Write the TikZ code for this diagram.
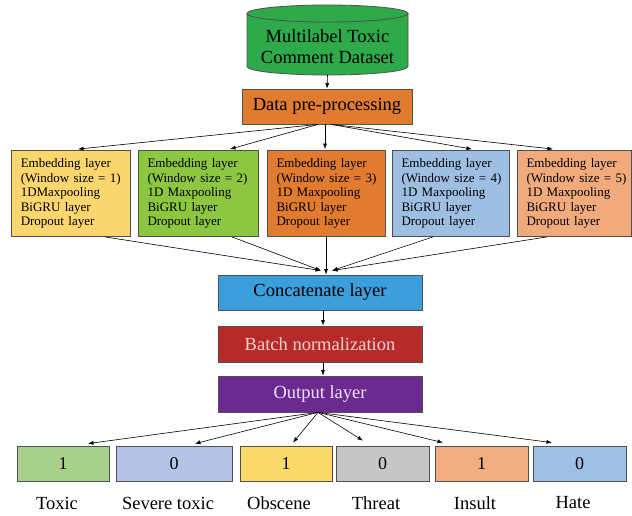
\documentclass[tikz,border=0pt]{standalone}
\usepackage{fontspec}
\setmainfont{Liberation Serif}
\usetikzlibrary{arrows.meta,calc}
\definecolor{edge}{HTML}{505050}
\definecolor{cylgreen}{HTML}{2EAA4A}
\definecolor{preor}{HTML}{E07B2F}
\definecolor{eyel}{HTML}{F9D66E}
\definecolor{egrn}{HTML}{8DC641}
\definecolor{eora}{HTML}{E07B2F}
\definecolor{eblu}{HTML}{9EBFE2}
\definecolor{esal}{HTML}{F1AA7C}
\definecolor{concol}{HTML}{3C9FDB}
\definecolor{batcol}{HTML}{B52B2A}
\definecolor{outcol}{HTML}{6B2A90}
\definecolor{battxt}{HTML}{F4D2CA}
\definecolor{outtxt}{HTML}{EEE2F6}
\definecolor{otox}{HTML}{A8D08D}
\definecolor{osev}{HTML}{B4C2E3}
\definecolor{oobs}{HTML}{FBD96B}
\definecolor{othr}{HTML}{C6C6C6}
\definecolor{oins}{HTML}{F2AE80}
\definecolor{ohat}{HTML}{9DC0E4}
\begin{document}
\begin{tikzpicture}[x=1pt,y=-1pt,
  box/.style={draw=edge, line width=0.8pt, inner sep=0pt, font=\fontsize{18.5}{21}\selectfont},
  embbox/.style={draw=edge, line width=0.8pt, minimum height=86pt, text width=#1, align=left,
    inner xsep=9.5pt, inner ysep=0pt, font=\fontsize{13}{14.5}\selectfont},
  resbox/.style={draw=edge, line width=0.8pt, inner sep=0pt, minimum height=35pt, font=\fontsize{18}{20}\selectfont},
  lbl/.style={inner sep=0pt, font=\fontsize{18.5}{21}\selectfont},
  arr/.style={-{Latex[length=5.5pt,width=4pt]}, line width=0.6pt, black}]
\useasboundingbox (0,0) rectangle (632,516);
\fill[white] (0,0) rectangle (632,516);

% cylinder
\fill[cylgreen] (247,13.5) -- (247,66.5) arc[start angle=180,end angle=0,x radius=80.5,y radius=8.5] -- (408,13.5) -- cycle;
\draw[edge, line width=0.8pt] (247,13.5) -- (247,66.5) arc[start angle=180,end angle=0,x radius=80.5,y radius=8.5] -- (408,13.5);
\draw[edge, line width=0.8pt, fill=cylgreen] (327.5,13.5) ellipse[x radius=80.5, y radius=8.5];
\node[lbl, align=center, font=\fontsize{18.5}{21}\selectfont] (ds) at (327.5,47) {Multilabel Toxic\\Comment Dataset};
\coordinate (cylbot) at (327.5,75);

\node[box, fill=preor, minimum width=170pt, minimum height=35pt] (pre) at (327,106.5) {Data pre-processing};

\node[embbox=99.5pt, fill=eyel, minimum width=119pt] (e1) at (70.5,193.5) {Embedding layer\\\mbox{(Window size = 1)}\\1DMaxpooling\\BiGRU layer\\Dropout layer};
\node[embbox=101pt, fill=egrn, minimum width=120pt] (e2) at (198,193.5) {Embedding layer\\\mbox{(Window size = 2)}\\1D Maxpooling\\BiGRU layer\\Dropout layer};
\node[embbox=99pt, fill=eora, minimum width=118pt] (e3) at (326,193.5) {Embedding layer\\\mbox{(Window size = 3)}\\1D Maxpooling\\BiGRU layer\\Dropout layer};
\node[embbox=98pt, fill=eblu, minimum width=117pt] (e4) at (450.5,193.5) {Embedding layer\\\mbox{(Window size = 4)}\\1D Maxpooling\\BiGRU layer\\Dropout layer};
\node[embbox=95pt, fill=esal, minimum width=114pt] (e5) at (574,193.5) {Embedding layer\\\mbox{(Window size = 5)}\\1D Maxpooling\\BiGRU layer\\Dropout layer};

\node[box, fill=concol, minimum width=204pt, minimum height=35pt] (con) at (320,292.5) {Concatenate layer};
\node[box, fill=batcol, text=battxt, minimum width=204pt, minimum height=36pt] (bat) at (320,344) {Batch normalization};
\node[box, fill=outcol, text=outtxt, minimum width=204pt, minimum height=36pt] (out) at (320,394) {Output layer};

\node[resbox, fill=otox, minimum width=92pt] (o1) at (63,463.5) {1};
\node[resbox, fill=osev, minimum width=116pt] (o2) at (174,463.5) {0};
\node[resbox, fill=oobs, minimum width=92pt] (o3) at (286,463.5) {1};
\node[resbox, fill=othr, minimum width=93pt] (o4) at (382.5,463.5) {0};
\node[resbox, fill=oins, minimum width=93pt] (o5) at (481.5,463.5) {1};
\node[resbox, fill=ohat, minimum width=93pt] (o6) at (579.5,463.5) {0};

\node[lbl] (l1) at (57,503) {Toxic};
\node[lbl] (l2) at (168,503) {Severe toxic};
\node[lbl] (l3) at (279,503) {Obscene};
\node[lbl] (l4) at (376,503) {Threat};
\node[lbl] (l5) at (475,503) {Insult};
\node[lbl] (l6) at (573,503) {Hate};

% arrows
\draw[arr] (cylbot) -- (pre.north);
\draw[arr] ($(pre.south)+(-9,0)$) -- ($(e1.north)+(7.5,-1)$);
\draw[arr] ($(pre.south)+(-9,0)$) -- ($(e2.north)+(32,-1)$);
\draw[arr] ($(pre.south)+(-2,0)$) -- ($(e3.north)+(-1,-1)$);
\draw[arr] ($(pre.south)+(4,0)$) -- ($(e4.north)+(21.5,-1)$);
\draw[arr] ($(pre.south)+(4,0)$) -- ($(e5.north)+(-21,-1)$);

\draw[arr] ($(e1.south)+(34.5,0)$) -- ($(con.north)+(1,-4)$);
\draw[arr] ($(e2.south)+(34,0)$) -- ($(con.north)+(1,-4)$);
\draw[arr] (e3.south) -- ($(con.north)+(6,0)$);
\draw[arr] ($(e4.south)+(-17.5,0)$) -- ($(con.north)+(12,-4)$);
\draw[arr] ($(e5.south)+(-27,0)$) -- ($(con.north)+(12,-4)$);

\draw[arr] ($(con.south)+(3,0)$) -- ($(bat.north)+(3,0)$);
\draw[arr] ($(bat.south)+(3,0)$) -- ($(out.north)+(3,0)$);

\draw[arr] ($(out.south)+(-2,0)$) -- ($(o1.north)+(25,-2)$);
\draw[arr] ($(out.south)+(-2,0)$) -- ($(o2.north)+(21,-2)$);
\draw[arr] ($(out.south)+(-2,0)$) -- ($(o3.north)+(7,-3)$);
\draw[arr] ($(out.south)+(-2,0)$) -- ($(o4.north)+(-19.5,-5)$);
\draw[arr] ($(out.south)+(-2,0)$) -- ($(o5.north)+(-38.5,-3)$);
\draw[arr] ($(out.south)+(-2,0)$) -- ($(o6.north)+(-27.5,-3)$);
\end{tikzpicture}
\end{document}
